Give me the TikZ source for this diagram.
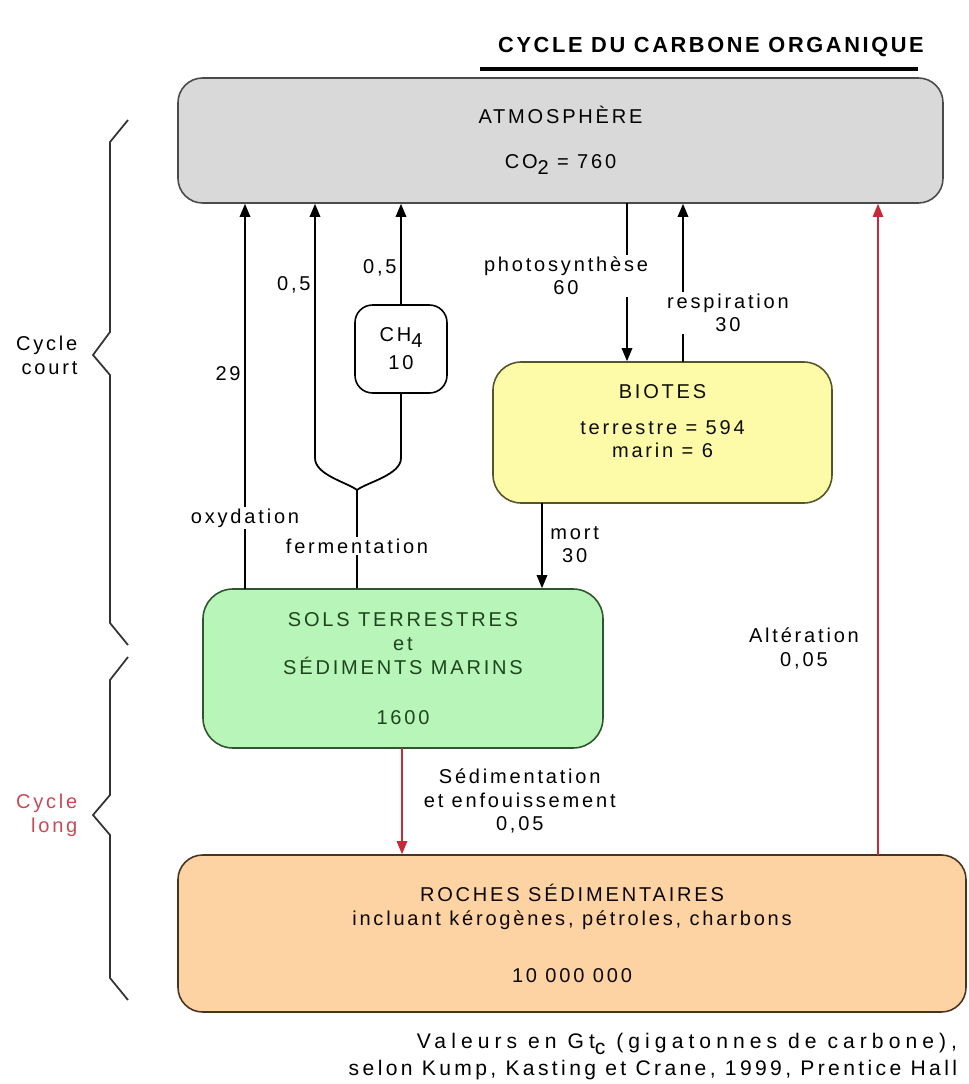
\documentclass[tikz,border=0pt]{standalone}
\usepackage{fontspec}
\setmainfont{Liberation Sans}[LetterSpace=14]
\usepackage{tikz}
\usetikzlibrary{shapes,arrows}
\usetikzlibrary{arrows.meta}
\definecolor{atmoFill}{HTML}{D9D9D9}
\definecolor{atmoLine}{HTML}{4A4A4A}
\definecolor{bioFill}{HTML}{FDFBA8}
\definecolor{bioLine}{HTML}{55552A}
\definecolor{solFill}{HTML}{B8F5B8}
\definecolor{solLine}{HTML}{2E552E}
\definecolor{solText}{HTML}{1E451E}
\definecolor{rocFill}{HTML}{FDD3A4}
\definecolor{rocLine}{HTML}{4A3420}
\definecolor{flowRed}{HTML}{C42A3A}
\definecolor{longRed}{HTML}{C84A56}
\newcommand{\lowidx}[1]{\raisebox{-0.55ex}{#1}}
\tikzset{
	block/.style     = {draw, rectangle, line width=0.9pt, align=center},
	flowlabel/.style = {fill=white, inner sep=1pt, align=center},
	sidelabel/.style = {inner sep=2pt, align=center},
}

\begin{document}
\begin{tikzpicture}[line width=1pt,                          %<--setting line style
                    every node/.style={font=\fontsize{11.4}{13.5}\selectfont},
                    >/.tip={Triangle[length=7.5pt,width=6pt]}
                    ]
    \useasboundingbox (0,0) rectangle (19.36,-21.68);

    %-- Blocks creation --%
    \draw
      % TITLE %
      node(title) at (14.22,-0.94) [font={\bfseries\fontsize{12.4}{14}\selectfont\addfontfeatures{LetterSpace=12}}] {CYCLE DU CARBONE ORGANIQUE}
      node[shape=coordinate][](ulineL) at (9.6,-1.38){}
      node[shape=coordinate][](ulineR) at (18.36,-1.38){}
    ;
    \draw
      % RESERVOIRS %
      node(atmo) at (11.21,-2.81) [block, fill=atmoFill, draw=atmoLine, rounded corners=14pt,
        minimum width=15.3cm, minimum height=2.5cm] {ATMOSPHÈRE\\[12pt]CO\lowidx{2} = 760}
      node(ch4) at (8.02,-6.98) [block, fill=white, rounded corners=10pt,
        minimum width=1.84cm, minimum height=1.76cm] {CH\lowidx{4}\\[2.5pt]10}
      node(biotes) at (13.25,-8.65) [block, fill=bioFill, draw=bioLine, text=black!85!bioLine, rounded corners=16pt,
        minimum width=6.78cm, minimum height=2.82cm, text depth=13pt] {BIOTES\\[7pt]terrestre = 594\\marin = 6}
      node(sols) at (8.06,-13.37) [block, fill=solFill, draw=solLine, text=solText, rounded corners=17pt,
        minimum width=8cm, minimum height=3.18cm] {SOLS TERRESTRES\\et\\SÉDIMENTS MARINS\\[15pt]1600}
      node(roches) at (11.44,-18.67) [block, fill=rocFill, draw=rocLine, text=black!85!rocLine, rounded corners=14pt,
        minimum width=15.76cm, minimum height=3.14cm] {ROCHES SÉDIMENTAIRES\\incluant kérogènes, pétroles, charbons\\[19pt]10 000 000}
    ;
    \draw
      % BRANCH POINTS %
      node[shape=coordinate][](oxydFoot) at (4.9,-11.78){}
      node[shape=coordinate][](fermFork) at (7.14,-9.8){}
      node[shape=coordinate][](fermLeft) at (6.3,-9.16){}
      node[shape=coordinate][](fermRight) at (8.02,-9.16){}
      node[shape=coordinate][](photoTop) at (12.54,-4.06){}
      node[shape=coordinate][](respiFoot) at (13.66,-7.24){}
      node[shape=coordinate][](mortTop) at (10.84,-10.06){}
      node[shape=coordinate][](sedimTop) at (8.04,-14.96){}
      node[shape=coordinate][](alterFoot) at (17.56,-17.1){}
    ;

    %-- Block linking --%
    % TITLE %
    \draw[line width=1.8pt] (ulineL) -- (ulineR);

    % CYCLE COURT %
    \draw[->] (oxydFoot)  -- node[flowlabel, pos=0.184]{oxydation}
                              node[sidelabel, left, pos=0.56]{29} (oxydFoot |- atmo.south);
    \draw (sols.north -| fermFork) -- node[flowlabel, pos=0.43]{fermentation} (fermFork);
    \draw[->] (fermFork) .. controls (6.95,-9.65) and (6.3,-9.5) .. (fermLeft)
                         -- node[sidelabel, left, pos=0.68]{0,5} (fermLeft |- atmo.south);
    \draw (fermFork) .. controls (7.33,-9.65) and (8.02,-9.5) .. (fermRight) -- (ch4.south);
    \draw[->] (ch4.north) -- node[sidelabel, left, pos=0.36]{0,5} (ch4.north |- atmo.south);

    \draw[->] (photoTop)  -- node[flowlabel, pos=0.46, xshift=-1.22cm]{photosynthèse\\60} (photoTop |- biotes.north);
    \draw[->] (respiFoot) -- node[flowlabel, pos=0.31, xshift=0.9cm]{respiration\\30} (respiFoot |- atmo.south);
    \draw[->] (mortTop)   -- node[sidelabel, right, pos=0.49, xshift=0.08cm]{mort\\30} (mortTop |- sols.north);

    % CYCLE LONG %
    \draw[->, draw=flowRed, line width=0.9pt, >/.tip={Triangle[length=7.5pt,width=6pt,fill=flowRed]}]
      (sedimTop)  -- node[sidelabel, right, pos=0.5, xshift=0.35cm, text=black]{Sédimentation\\et enfouissement\\0,05} (sedimTop |- roches.north);
    \draw[->, draw=flowRed, line width=0.7pt, >/.tip={Triangle[length=7.5pt,width=6pt,fill=flowRed]}]
      (alterFoot) -- node[sidelabel, left, pos=0.317, xshift=-0.3cm, text=black]{Altération\\0,05} (alterFoot |- atmo.south);

    %-- Braces --%
    \draw[line width=1pt, black!80] (2.56,-2.4) -- (2.2,-2.84) -- (2.2,-6.64) -- (1.86,-7.1)
      -- (2.2,-7.5) -- (2.2,-12.46) -- (2.56,-12.9);
    \draw[line width=1pt, black!80] (2.56,-13.14) -- (2.2,-13.6) -- (2.2,-15.9) -- (1.86,-16.3)
      -- (2.2,-16.7) -- (2.2,-19.56) -- (2.56,-20.0);
    \draw
      node(court) at (1.6,-7.1) [anchor=east, align=right, inner sep=1pt] {Cycle\\court}
      node(long) at (1.6,-16.3) [anchor=east, align=right, inner sep=1pt, text=longRed] {Cycle\\long}
    ;

    %-- Source --%
    \draw
      node(source) at (19.16,-21.13) [anchor=east, align=right, inner sep=0pt,
        font={\fontsize{12}{13.5}\selectfont}]
        {\addfontfeatures{LetterSpace=24}Valeurs en Gt\lowidx{c} (gigatonnes de carbone),\\[1.5pt]%
         \addfontfeatures{LetterSpace=16}selon Kump, Kasting et Crane, 1999, Prentice Hall}
    ;

  \end{tikzpicture}
\end{document}
